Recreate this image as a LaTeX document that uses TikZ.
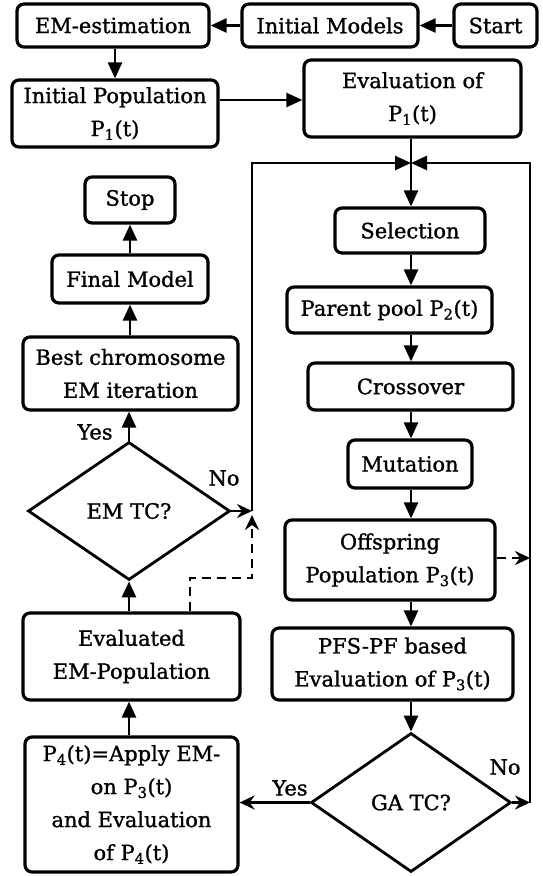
\documentclass[tikz,border=0pt]{standalone}
\usepackage{fontspec}
\setmainfont[FakeBold=1.2,AutoFakeBold=1.2]{DejaVu Serif}
\usetikzlibrary{arrows.meta,shapes.geometric,calc}
\newcommand\boxfont{\fontsize{21}{33}\selectfont\bfseries}
\newcommand\diafont{\fontsize{21}{33}\selectfont}
\begin{document}
\begin{tikzpicture}[x=1pt,y=-1pt,
  box/.style={draw,line width=3.2pt,rounded corners=7pt,inner sep=0pt,align=center,font=\boxfont},
  dia/.style={draw,diamond,line width=2.8pt,inner sep=0pt,align=center,font=\diafont},
  lbl/.style={font=\boxfont,inner sep=0pt},
  arr/.style={line width=2.6pt,-{Triangle[length=16pt,width=14pt]}},
  sarr/.style={line width=2.6pt,-{Stealth[length=15pt,width=14pt,inset=5pt]}},
  darr/.style={line width=2.6pt,dash pattern=on 9pt off 6pt,-{Stealth[length=15pt,width=14pt,inset=5pt]}},
  plain/.style={line width=2.6pt}
]
\useasboundingbox (0,0) rectangle (542,876);
% top row
\node[box,minimum width=192pt,minimum height=43pt] (em) at (113,25.5) {EM-estimation};
\node[box,minimum width=176pt,minimum height=43pt] (im) at (330,25.5) {Initial Models};
\node[box,minimum width=83pt,minimum height=43pt] (start) at (495.5,25.5) {Start};
\node[box,minimum width=206pt,minimum height=67pt] (ipop) at (115,113.5) {Initial Population\\P\textsubscript{1}(t)};
\node[box,minimum width=217pt,minimum height=77pt] (eval) at (412.5,98.5) {Evaluation of\\P\textsubscript{1}(t)};
% left column
\node[box,minimum width=90pt,minimum height=46pt] (stop) at (130,200) {Stop};
\node[box,minimum width=156pt,minimum height=48pt] (final) at (130,279) {Final Model};
\node[box,minimum width=215pt,minimum height=73pt] (best) at (130.5,373.5) {Best chromosome\\EM iteration};
\node[dia,minimum width=202pt,minimum height=138pt] (emtc) at (129,511) {EM TC?};
\node[box,minimum width=217pt,minimum height=87pt] (evald) at (131.5,656.5) {Evaluated\\EM-Population};
\node[box,minimum width=213pt,minimum height=135pt] (p4) at (131.5,804.5) {P\textsubscript{4}(t)=Apply EM-\\on P\textsubscript{3}(t)\\and Evaluation\\of P\textsubscript{4}(t)};
% right column
\node[box,minimum width=150pt,minimum height=45pt] (sel) at (410,230.5) {Selection};
\node[box,minimum width=205pt,minimum height=46pt] (pp) at (389.5,310) {Parent pool P\textsubscript{2}(t)};
\node[box,minimum width=205pt,minimum height=47pt] (cross) at (410.5,386.5) {Crossover};
\node[box,minimum width=124pt,minimum height=48pt] (mut) at (410,464) {Mutation};
\node[box,minimum width=210pt,minimum height=80pt] (off) at (390,560) {Offspring\\Population P\textsubscript{3}(t)};
\node[box,minimum width=241pt,minimum height=72pt] (pfs) at (392.5,664) {PFS-PF based\\Evaluation of P\textsubscript{3}(t)};
\node[dia,minimum width=200pt,minimum height=139pt] (gatc) at (411,802.5) {GA TC?};
% coordinates
\coordinate (j) at (411,163);
\coordinate (ltop) at (252,163);
\coordinate (lj) at (252,511);
\coordinate (rtop) at (530,163);
\coordinate (rj) at (530,802.5);
\coordinate (d1) at (190,578);
\coordinate (d2) at (252,578);
\coordinate (d3) at (252,515);
\coordinate (d4) at (530,558);
% top connectors
\draw[arr] (start) -- (im);
\draw[arr] (im) -- (em);
\draw[arr] (em.south -| ipop) -- (ipop.north);
\draw[arr] (ipop.east |- 0,100) -- (eval.west |- 0,100);
\draw[plain] (eval.south -| j) -- (j);
% loop
\draw[arr] (lj) -- (ltop) -- (j);
\draw[arr] (rj) -- (rtop) -- (j);
\draw[arr] (j) -- (sel.north -| j);
\draw[arr] (sel.south -| j) -- (pp.north -| j);
\draw[arr] (pp.south -| j) -- (cross.north -| j);
\draw[arr] (cross.south -| j) -- (mut.north -| j);
\draw[arr] (mut.south -| j) -- (off.north -| j);
\draw[arr] (off.south -| j) -- (pfs.north -| j);
\draw[arr] (pfs.south -| j) -- (gatc.north);
\draw[darr] (off.east |- d4) -- (d4);
% GA TC
\draw[sarr] (gatc.east) -- (rj);
\draw[sarr] (gatc.west) -- (gatc.west -| p4.east);
\node[lbl] (gyes) at (290,788) {Yes};
\node[lbl] (gno) at (505,767) {No};
% left column connectors
\draw[arr] (p4.north -| emtc) -- (evald.south -| emtc);
\draw[arr] (evald.north -| emtc) -- (emtc.south);
\draw[darr] (evald.north -| d1) -- (d1) -- (d2) -- (d3);
\draw[sarr] (emtc.east) -- (lj);
\draw[arr] (emtc.north) -- (best.south -| emtc);
\draw[arr] (best.north -| stop) -- (final.south -| stop);
\draw[arr] (final.north -| stop) -- (stop.south);
\node[lbl] (eyes) at (95,432) {Yes};
\node[lbl] (eno) at (224,478) {No};
\end{tikzpicture}
\end{document}
